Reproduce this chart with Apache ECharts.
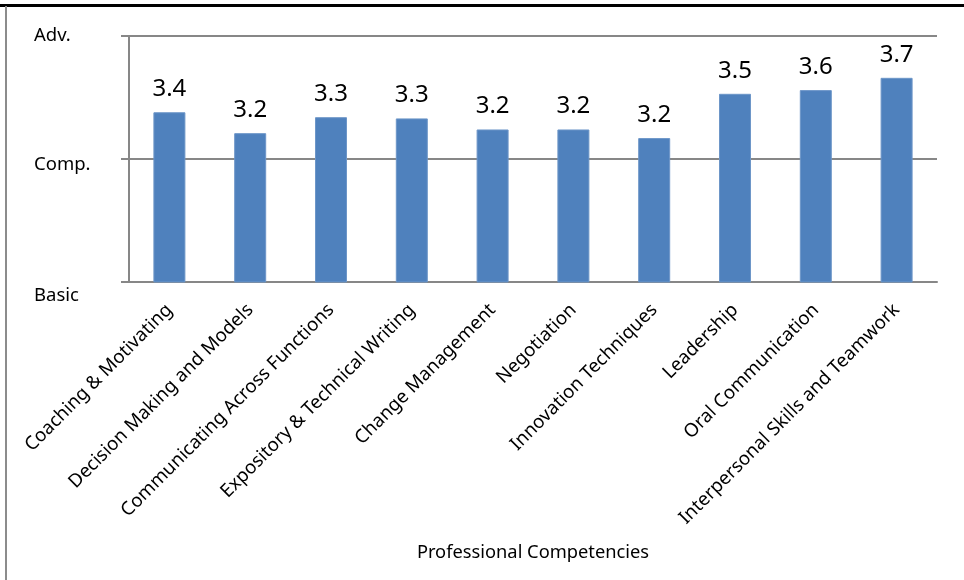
<!DOCTYPE html>
<html>
<head>
<meta charset="utf-8">
<script src="https://cdn.jsdelivr.net/npm/echarts@6/dist/echarts.min.js"></script>
<style>
html,body{margin:0;padding:0;background:#fff;}
#main{width:964px;height:580px;}
</style>
</head>
<body>
<div id="main"></div>
<script>
// competencies (x axis)
var categories = [
    'Coaching & Motivating',
    'Decision Making and Models',
    'Communicating Across Functions',
    'Expository & Technical Writing',
    'Change Management',
    'Negotiation',
    'Innovation Techniques',
    'Leadership',
    'Oral Communication',
    'Interpersonal Skills and Teamwork'
];
// average level, 2 = Basic, 3 = Comp., 4 = Adv.
var scores = [3.38, 3.21, 3.34, 3.33, 3.24, 3.24, 3.17, 3.53, 3.56, 3.66];
// y tick labels
var levelNames = {2: 'Basic', 3: 'Comp.', 4: 'Adv.'};
var levelStyle = {2: 'b', 3: 'c', 4: 'a'};

var FONT = '"Noto Sans", sans-serif';

function drawChart(){
    var myChart = echarts.init(document.getElementById('main'));
    var option = {
        animation: false,
        backgroundColor: '#fff',
        textStyle: {fontFamily: FONT},
        grid: {left: 129, right: 27, top: 36, bottom: 298, containLabel: false},
        graphic: [
            {type: 'rect', shape: {x: 0, y: 4, width: 964, height: 3}, style: {fill: '#000'}},
            {type: 'rect', shape: {x: 5, y: 6, width: 2, height: 574}, style: {fill: '#8c8c8c'}}
        ],
        xAxis: {
            type: 'category',
            data: categories,
            name: 'Professional Competencies',
            nameLocation: 'middle',
            nameGap: 262,
            nameTextStyle: {fontFamily: FONT, fontSize: 18.3, color: '#000'},
            axisLine: {show: true, lineStyle: {color: '#878787', width: 2}},
            axisTick: {show: false},
            axisLabel: {
                interval: 0,
                rotate: 45,
                margin: 25,
                fontFamily: FONT,
                fontSize: 18.7,
                color: '#000'
            }
        },
        yAxis: {
            type: 'value',
            min: 2,
            max: 4,
            interval: 1,
            axisLine: {show: true, lineStyle: {color: '#878787', width: 2}},
            axisTick: {show: true, length: 8, lineStyle: {color: '#878787', width: 2}},
            splitLine: {show: true, lineStyle: {color: '#878787', width: 2}},
            axisLabel: {
                align: 'left',
                margin: 95,
                color: '#000',
                fontFamily: FONT,
                fontSize: 18.5,
                formatter: function(v){
                    return '{' + levelStyle[v] + '|' + levelNames[v] + '}';
                },
                rich: {
                    a: {fontFamily: FONT, fontSize: 18.5, color: '#000', padding: [0, 0, 0, 0]},
                    c: {fontFamily: FONT, fontSize: 18.5, color: '#000', padding: [12, 0, 0, 0]},
                    b: {fontFamily: FONT, fontSize: 18.5, color: '#000', padding: [28, 0, 0, 0]}
                }
            }
        },
        series: [
            {
                type: 'bar',
                data: scores,
                barWidth: 32,
                itemStyle: {color: '#4F81BD', borderColor: '#6d96c8', borderWidth: 1},
                label: {
                    show: true,
                    position: 'top',
                    distance: 11,
                    fontFamily: FONT,
                    fontSize: 24,
                    color: '#000',
                    formatter: function(p){ return p.value.toFixed(1); }
                }
            }
        ]
    };
    myChart.setOption(option);
}
drawChart();
</script>
</body>
</html>
